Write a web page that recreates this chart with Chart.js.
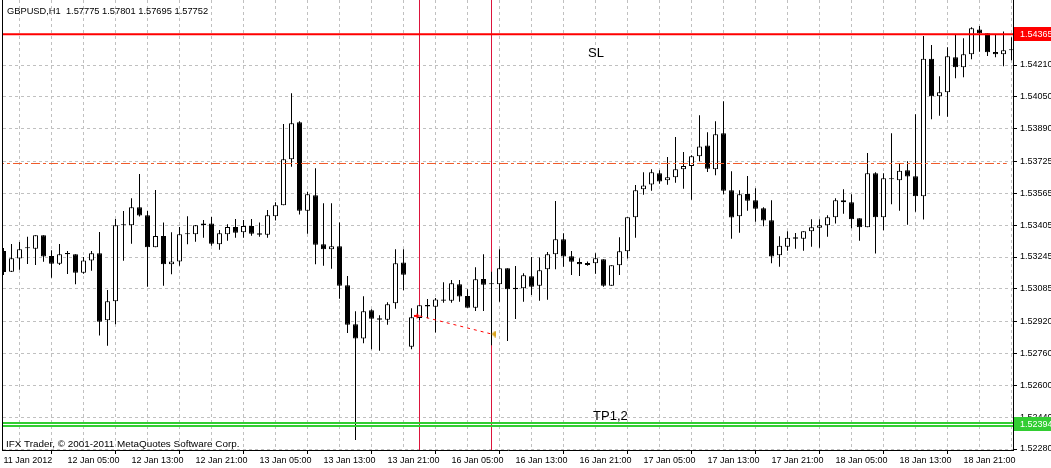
<!DOCTYPE html>
<html><head><meta charset="utf-8">
<script src="https://cdn.jsdelivr.net/npm/chart.js@4/dist/chart.umd.min.js"></script>
<style>html,body{margin:0;padding:0;background:#fff;overflow:hidden}canvas{display:block}</style>
</head><body>
<canvas id="c" width="1051" height="468"></canvas>
<script>
// ---------- DATA ----------
const titleText = 'GBPUSD,H1  1.57775 1.57801 1.57695 1.57752';
const footerText = 'IFX Trader, \u00A9 2001-2011 MetaQuotes Software Corp.';
const xTickLabels = ['11 Jan 2012','12 Jan 05:00','12 Jan 13:00','12 Jan 21:00','13 Jan 05:00','13 Jan 13:00','13 Jan 21:00','16 Jan 05:00','16 Jan 13:00','16 Jan 21:00','17 Jan 05:00','17 Jan 13:00','17 Jan 21:00','18 Jan 05:00','18 Jan 13:00','18 Jan 21:00'];
const yTickLabels = ['1.52280','1.52440','1.52600','1.52760','1.52920','1.53085','1.53245','1.53405','1.53565','1.53725','1.53890','1.54050','1.54210'];
const opens = [1.53275,1.53171,1.53237,1.53289,1.53287,1.53354,1.53250,1.53211,1.53265,1.53259,1.53166,1.53228,1.53264,1.52927,1.53022,1.53404,1.53404,1.53495,1.53455,1.53294,1.53351,1.53208,1.53223,1.53364,1.53359,1.53404,1.53414,1.53309,1.53359,1.53396,1.53369,1.53401,1.53364,1.53357,1.53450,1.53505,1.53736,1.53922,1.53478,1.53555,1.53309,1.53284,1.53299,1.53103,1.52907,1.52836,1.52977,1.52937,1.52930,1.53012,1.53218,1.52794,1.52938,1.53004,1.52995,1.53032,1.53025,1.53108,1.53049,1.52990,1.53134,1.53108,1.53108,1.53188,1.53091,1.53088,1.53148,1.53101,1.53183,1.53259,1.53334,1.53249,1.53220,1.53215,1.53213,1.53234,1.53101,1.53203,1.53274,1.53445,1.53585,1.53610,1.53666,1.53631,1.53646,1.53686,1.53702,1.53751,1.53806,1.53686,1.53867,1.53580,1.53450,1.53562,1.53530,1.53490,1.53430,1.53254,1.53297,1.53344,1.53337,1.53374,1.53392,1.53404,1.53445,1.53530,1.53520,1.53440,1.53394,1.53666,1.53445,1.53636,1.53631,1.53681,1.53651,1.53550,1.54242,1.54053,1.54073,1.54249,1.54199,1.54264,1.54389,1.54369,1.54275,1.54264,1.54284];
const highs = [1.53290,1.53310,1.53320,1.53347,1.53354,1.53354,1.53279,1.53310,1.53275,1.53259,1.53245,1.53275,1.53371,1.53079,1.53436,1.53476,1.53540,1.53662,1.53476,1.53582,1.53419,1.53369,1.53396,1.53450,1.53406,1.53431,1.53446,1.53381,1.53409,1.53436,1.53431,1.53436,1.53419,1.53481,1.53520,1.53914,1.54068,1.53927,1.53573,1.53691,1.53515,1.53515,1.53419,1.53150,1.52972,1.53048,1.52982,1.52952,1.53017,1.53284,1.53284,1.52987,1.53002,1.53034,1.53039,1.53118,1.53129,1.53129,1.53083,1.53193,1.53259,1.53171,1.53284,1.53188,1.53200,1.53163,1.53245,1.53242,1.53270,1.53527,1.53364,1.53275,1.53239,1.53223,1.53264,1.53234,1.53203,1.53344,1.53445,1.53607,1.53671,1.53686,1.53681,1.53748,1.53848,1.53773,1.53756,1.53957,1.53872,1.53927,1.54028,1.53676,1.53580,1.53652,1.53590,1.53495,1.53530,1.53349,1.53374,1.53366,1.53374,1.53435,1.53435,1.53455,1.53540,1.53585,1.53560,1.53440,1.53768,1.53671,1.53666,1.53867,1.53716,1.53726,1.53962,1.54356,1.54311,1.54153,1.54299,1.54364,1.54344,1.54400,1.54406,1.54369,1.54364,1.54379,1.54349];
const lows = [1.53155,1.53170,1.53181,1.53210,1.53205,1.53221,1.53141,1.53205,1.53160,1.53108,1.53161,1.53176,1.52850,1.52799,1.52907,1.53226,1.53312,1.53448,1.53096,1.53294,1.53101,1.53158,1.53201,1.53309,1.53322,1.53342,1.53302,1.53282,1.53327,1.53342,1.53342,1.53352,1.53347,1.53342,1.53428,1.53505,1.53699,1.53458,1.53362,1.53208,1.53201,1.53186,1.53035,1.52863,1.52325,1.52811,1.52781,1.52774,1.52905,1.52985,1.53078,1.52781,1.52928,1.52937,1.52865,1.53015,1.53015,1.53020,1.52990,1.52974,1.52974,1.52801,1.53020,1.52823,1.52933,1.53020,1.53054,1.53025,1.53030,1.53183,1.53196,1.53155,1.53150,1.53201,1.53161,1.53096,1.53101,1.53155,1.53237,1.53342,1.53558,1.53578,1.53613,1.53608,1.53618,1.53588,1.53533,1.53726,1.53672,1.53656,1.53560,1.53337,1.53367,1.53478,1.53422,1.53399,1.53213,1.53196,1.53277,1.53287,1.53277,1.53297,1.53292,1.53347,1.53414,1.53463,1.53389,1.53327,1.53394,1.53262,1.53379,1.53510,1.53478,1.53407,1.53473,1.53433,1.53937,1.53955,1.53950,1.54143,1.54148,1.54239,1.54277,1.54255,1.54249,1.54204,1.54234];
const closes = [1.53170,1.53239,1.53284,1.53289,1.53354,1.53247,1.53211,1.53259,1.53259,1.53166,1.53228,1.53264,1.52920,1.53022,1.53404,1.53404,1.53495,1.53453,1.53294,1.53351,1.53208,1.53223,1.53359,1.53359,1.53404,1.53414,1.53312,1.53364,1.53396,1.53367,1.53401,1.53362,1.53357,1.53455,1.53505,1.53736,1.53917,1.53478,1.53560,1.53307,1.53284,1.53299,1.53101,1.52905,1.52836,1.52972,1.52935,1.52930,1.53007,1.53213,1.53156,1.52942,1.53002,1.52996,1.53032,1.53025,1.53113,1.53046,1.52990,1.53133,1.53106,1.53108,1.53188,1.53083,1.53083,1.53153,1.53096,1.53178,1.53259,1.53334,1.53247,1.53221,1.53208,1.53205,1.53239,1.53101,1.53203,1.53274,1.53445,1.53580,1.53605,1.53671,1.53624,1.53646,1.53686,1.53702,1.53751,1.53801,1.53689,1.53862,1.53578,1.53443,1.53560,1.53528,1.53488,1.53428,1.53247,1.53302,1.53342,1.53337,1.53374,1.53394,1.53404,1.53445,1.53530,1.53520,1.53435,1.53394,1.53666,1.53445,1.53641,1.53636,1.53679,1.53649,1.53550,1.54242,1.54053,1.54073,1.54254,1.54199,1.54264,1.54395,1.54369,1.54274,1.54264,1.54284,1.54284];
const priceMin = 1.52275, priceMax = 1.545367;
const barMin = -0.0625, barMax = 126.1875;
const slLevel = 1.54365;
const tpLevels = [1.52411, 1.52396];
const tpLabel = '1.52394';
const dashDotLevel = 1.53715;
const verticalLineBars = [52, 61];
const tradeBars = [52, 61];
const tradePrices = [1.52949, 1.52858];
const textNotes = [{text:'SL', bar:73.06, price:1.54250}, {text:'TP1,2', bar:73.7, price:1.52428}];

// ---------- MARKERS ----------
function makeArrow(){
  const c = document.createElement('canvas'); c.width = 12; c.height = 6;
  const g = c.getContext('2d'); g.fillStyle = '#ff0000';
  g.beginPath(); g.moveTo(0,2); g.lineTo(3,2); g.lineTo(3,0); g.lineTo(6,3); g.lineTo(3,6); g.lineTo(3,4); g.lineTo(0,4); g.closePath(); g.fill();
  return c;
}
function makeTri(){
  const c = document.createElement('canvas'); c.width = 8; c.height = 7;
  const g = c.getContext('2d'); g.fillStyle = '#daa520';
  g.beginPath(); g.moveTo(4,3.5); g.lineTo(8,0); g.lineTo(8,7); g.closePath(); g.fill();
  return c;
}

const FONT = 'Liberation Sans';
const idx = opens.map((_, i) => i);
const noPad = () => ({left: 0, top: 0, right: 0, bottom: 0});

const overlay = {
  id: 'overlay',
  beforeDatasetsDraw(chart){
    const ctx = chart.ctx, a = chart.chartArea;
    ctx.save();
    ctx.fillStyle = '#000';
    ctx.fillRect(a.left - 1, 0, 1, a.bottom + 1);
    ctx.restore();
  },
  afterDraw(chart){
    const ctx = chart.ctx, xs = chart.scales.x, ys = chart.scales.y, a = chart.chartArea;
    ctx.save();
    ctx.fillStyle = '#000';
    ctx.textBaseline = 'alphabetic';
    ctx.font = '9.3px "' + FONT + '"';
    ctx.fillText(titleText, 7, 14);
    ctx.font = '9.9px "' + FONT + '"';
    ctx.fillText(footerText, 6, 447);
    ctx.font = '13px "' + FONT + '"';
    textNotes.forEach(n => ctx.fillText(n.text, xs.getPixelForValue(n.bar), ys.getPixelForValue(n.price)));
    const boxX = a.right + 1, boxW = chart.width - boxX;
    ctx.font = '9px "' + FONT + '"';
    ctx.textBaseline = 'middle';
    const ySL = ys.getPixelForValue(slLevel);
    ctx.fillStyle = '#ff0000';
    ctx.fillRect(boxX, Math.round(ySL - 7), boxW, 14);
    ctx.fillStyle = '#fff';
    ctx.fillText(slLevel.toFixed(5), a.right + 7, ySL);
    const yTP = (ys.getPixelForValue(tpLevels[0]) + ys.getPixelForValue(tpLevels[1])) / 2;
    ctx.fillStyle = '#32cd32';
    ctx.fillRect(boxX, Math.round(yTP - 7), boxW, 14);
    ctx.fillStyle = '#fff';
    ctx.fillText(tpLabel, a.right + 7, yTP);
    ctx.restore();
  }
};

const hLine = (level, color, width, order, dash) => ({
  type: 'line', data: [{x: barMin - 1, y: level}, {x: barMax + 1, y: level}],
  borderColor: color, borderWidth: width, borderDash: dash || [], pointRadius: 0, order: order, fill: false
});

const datasets = [
  {
    type: 'bar', label: 'wick', data: idx.map(i => ({x: i, y: [lows[i], highs[i]]})),
    backgroundColor: '#000', borderWidth: 0, barThickness: 1, grouped: false, order: 6, inflateAmount: 0
  },
  {
    type: 'bar', label: 'body', data: idx.map(i => ({x: i, y: [opens[i], closes[i]]})),
    backgroundColor: idx.map(i => closes[i] > opens[i] ? '#fff' : '#000'),
    borderColor: '#000', borderWidth: 1, borderSkipped: false, barThickness: 5, minBarLength: 1,
    grouped: false, order: 5, inflateAmount: 0
  },
  ...verticalLineBars.map(b => ({
    type: 'line', data: [{x: b, y: priceMin}, {x: b, y: priceMax}],
    borderColor: '#dc143c', borderWidth: 1, pointRadius: 0, order: 10
  })),
  {
    type: 'line', data: [{x: barMin - 1, y: dashDotLevel}, {x: 125.4, y: dashDotLevel}],
    borderColor: '#f05a28', borderWidth: 1, borderDash: [9, 3, 3, 3], pointRadius: 0, order: 3
  },
  hLine(slLevel, '#ff0000', 2, 2),
  ...tpLevels.map(l => hLine(l, '#32cd32', 2, 2)),
  {
    type: 'line', data: tradeBars.map((b, i) => ({x: b, y: tradePrices[i]})),
    borderColor: '#ff0000', borderWidth: 1, borderDash: [3, 4],
    pointStyle: [makeArrow(), makeTri()], pointRadius: 4, order: 1
  }
];

new Chart(document.getElementById('c'), {
  type: 'bar',
  data: {datasets},
  plugins: [overlay],
  options: {
    responsive: false, animation: false, events: [],
    layout: {autoPadding: false, padding: {left: 3, top: 0, right: 0, bottom: 0}},
    plugins: {legend: {display: false}, tooltip: {enabled: false}},
    scales: {
      x: {
        type: 'linear', min: barMin, max: barMax, offset: false,
        afterBuildTicks: s => { const t = []; for (let v = 0; v <= 124; v += 4) t.push({value: v}); s.ticks = t; },
        afterFit: s => { s.height = 18; s.paddingLeft = 0; s.paddingRight = 0; s.paddingTop = 0; s.paddingBottom = 0; s.getPadding = noPad; },
        ticks: {
          autoSkip: false, maxRotation: 0, minRotation: 0, align: 'start', padding: 1, color: '#000',
          font: {family: FONT, size: 9},
          callback: v => (v % 8 === 0 ? xTickLabels[v / 8] : '')
        },
        grid: {
          color: '#c0c0c0', lineWidth: 1, tickLength: 4, tickWidth: 1,
          tickColor: c => (c.tick && c.tick.value % 8 === 0 ? '#000' : 'rgba(0,0,0,0)')
        },
        border: {display: true, color: '#000', width: 1, dash: [3, 3]}
      },
      y: {
        type: 'linear', position: 'right', min: priceMin, max: priceMax,
        afterBuildTicks: s => { s.ticks = yTickLabels.map(t => ({value: parseFloat(t)})); },
        afterFit: s => { s.width = 38; s.paddingTop = 0; s.paddingBottom = 0; s.paddingLeft = 0; s.paddingRight = 0; s.getPadding = noPad; },
        ticks: {
          color: '#000', padding: 3, font: {family: FONT, size: 9},
          callback: (v, i) => yTickLabels[i]
        },
        grid: {color: '#c0c0c0', lineWidth: 1, tickLength: 4, tickWidth: 1, tickColor: '#000'},
        border: {display: true, color: '#000', width: 1, dash: [3, 3]}
      }
    }
  }
});
</script>
</body></html>
